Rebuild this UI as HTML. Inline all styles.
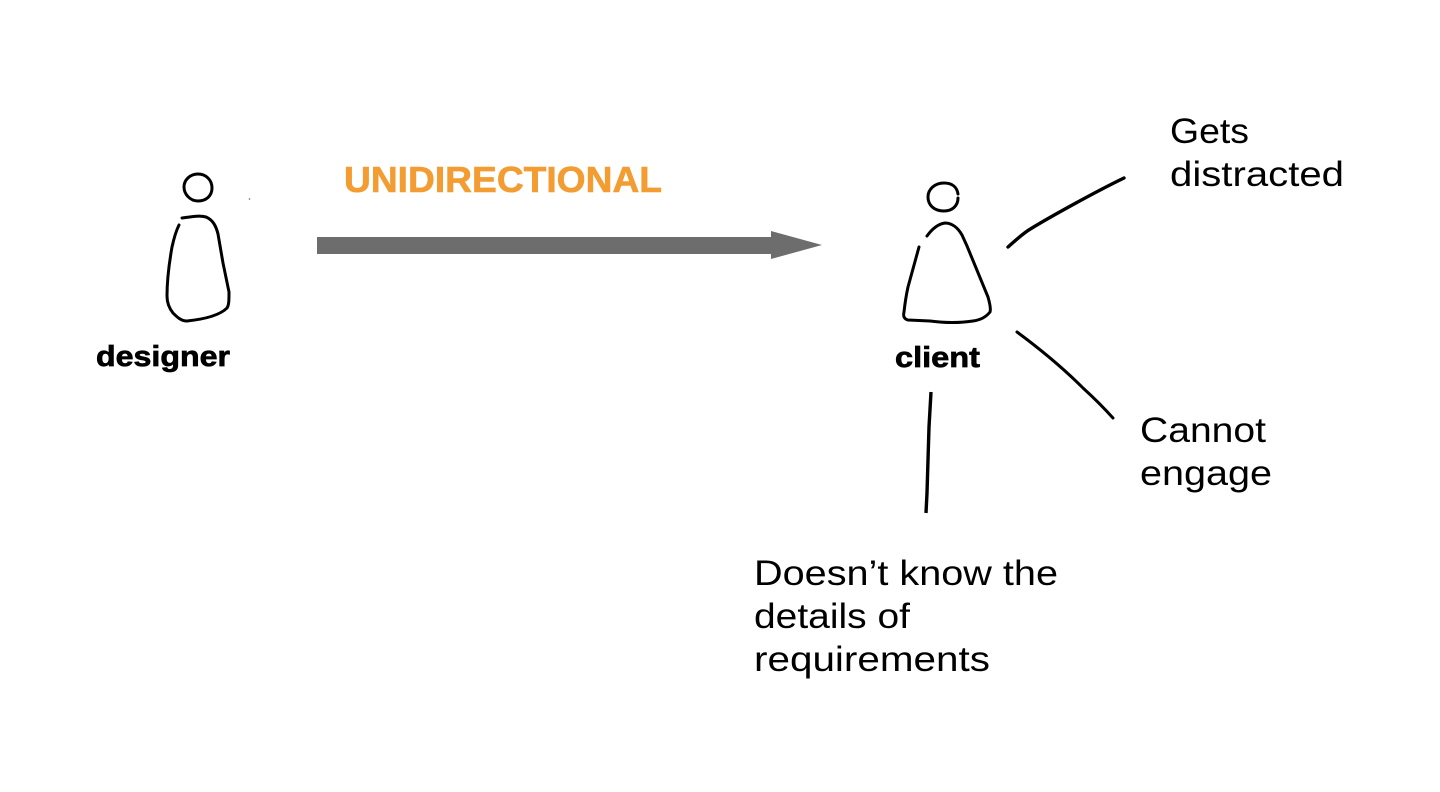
<!DOCTYPE html>
<html lang="en">
<head>
<meta charset="utf-8">
<title>Unidirectional communication diagram</title>
<style>
html,body{margin:0;padding:0;background:#fff;width:1440px;height:792px;overflow:hidden}
svg{display:block}
text{font-family:"Liberation Sans",sans-serif;fill:#000}
.s{fill:none;stroke:#000;stroke-width:3;stroke-linecap:round;stroke-linejoin:round}
.b{fill:#000;stroke:#000;stroke-width:.7}
</style>
</head>
<body>
<svg width="1440" height="792" viewBox="0 0 1440 792" xmlns="http://www.w3.org/2000/svg">
<rect width="1440" height="792" fill="#fff"/>

<!-- designer -->
<path class="s" d="M198 174C206 174 212 180 212 188C212 196 206 201 198 201C190 201 184 194 184 187C184 180 190 174 198 174Z"/>
<path class="s" d="M182 218C190 217 199 215 206 217C213 220 216 226 218 234L223 263L229 292C229 300 229 305 227 308C220 315 206 319 187 321C181 321 177 317 173 313C169 308 167 303 167 296C167 282 169 264 172 247C174 238 176 231 179 225"/>
<circle cx="249.500" cy="199" r="0.8" fill="#666"/>

<!-- client -->
<path class="s" d="M958 194C957 187 952 183 944 183C935 183 928 189 928 197C928 205 934 211 944 211C952 211 958 206 958 198"/>
<path class="s" d="M927 236C932 229 938 224 945 223C952 223 958 228 962 235L967 246L988 297C990 304 991 309 990 312C986 317 981 320 973 321C960 323 945 323 930 321L908 320C904 319 903 316 904 312C905 303 906 296 908 287L919 247"/>

<!-- connector lines -->
<path class="s" d="M1008 247C1015 241 1023 233 1032 228C1050 217 1095 192 1124 178" style="stroke-width:3.4"/>
<path class="s" d="M1017 332C1040 349 1062 367 1083 388C1094 398 1104 408 1113 418"/>
<path class="s" d="M931 392L929 427L927 493L926 513" style="stroke-linecap:butt;stroke-width:3.4"/>

<!-- arrow -->
<path d="M317 237H771V231L822 245L771 259V254H317Z" fill="#6d6d6d"/>

<!-- labels -->
<text class="b" x="344" y="192" font-size="36" font-weight="700" style="fill:#f39c32;stroke:#f39c32;stroke-width:.6" textLength="318" lengthAdjust="spacingAndGlyphs">UNIDIRECTIONAL</text>
<text class="b" x="96" y="366" font-size="29" font-weight="700" textLength="134" lengthAdjust="spacingAndGlyphs">designer</text>
<text class="b" x="895" y="367" font-size="29" font-weight="700" textLength="85" lengthAdjust="spacingAndGlyphs">client</text>

<text x="1170" y="143" font-size="35" textLength="79" lengthAdjust="spacingAndGlyphs">Gets</text>
<text x="1170" y="186" font-size="35" textLength="174" lengthAdjust="spacingAndGlyphs">distracted</text>
<text x="1140" y="442" font-size="35" textLength="126" lengthAdjust="spacingAndGlyphs">Cannot</text>
<text x="1140" y="485" font-size="35" textLength="132" lengthAdjust="spacingAndGlyphs">engage</text>
<text x="754" y="585" font-size="35" textLength="304" lengthAdjust="spacingAndGlyphs">Doesn’t know the</text>
<text x="754" y="628" font-size="35" textLength="156" lengthAdjust="spacingAndGlyphs">details of</text>
<text x="754" y="671" font-size="35" textLength="236" lengthAdjust="spacingAndGlyphs">requirements</text>
</svg>
</body>
</html>
